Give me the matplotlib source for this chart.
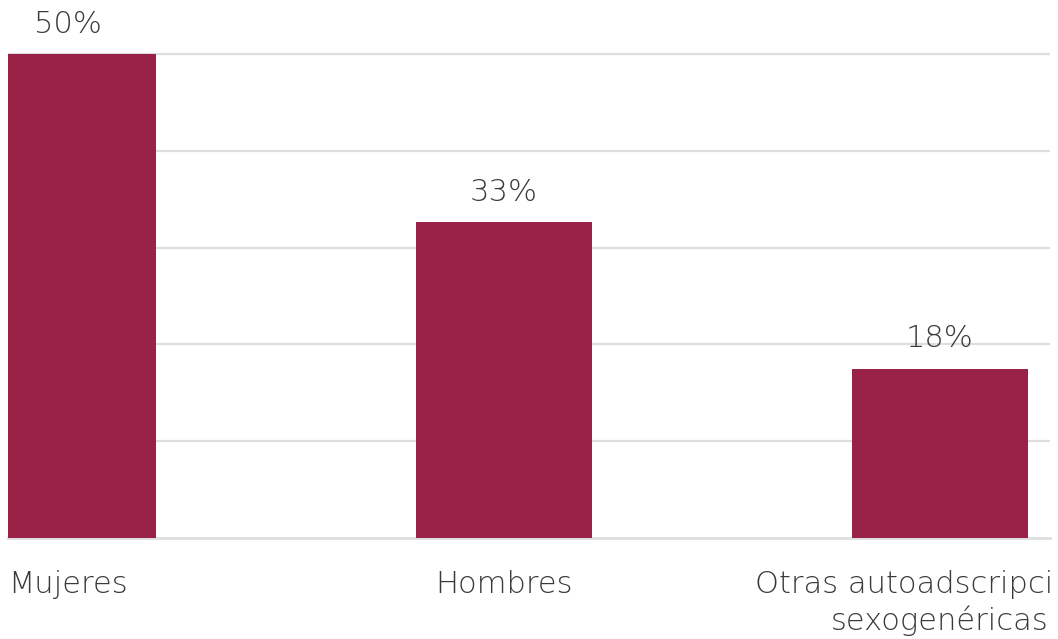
import matplotlib.pyplot as plt
from matplotlib.patches import Rectangle

categorias = ['Mujeres', 'Hombres', 'Otras autoadscripciones\nsexogenéricas']
valores = [50.0, 32.6, 17.5]
etiquetas = ['50%', '33%', '18%']

guinda = '#9B2247'
gris_texto = '#3A3A3A'
gris_linea = '#DEDEDE'

plt.rcParams['font.family'] = ['DejaVu Sans']

fig = plt.figure(figsize=(10.58, 6.39), dpi=100)
W, H = 1058, 639
ax = fig.add_axes([8 / W, (H - 538) / H, (1050 - 8) / W, 538 / H])

x = list(range(len(categorias)))
ax.bar(x, valores, width=0.404, color=guinda, zorder=3)

ax.set_xlim(-60 / 436, (1050 - 68) / 436)
ax.set_ylim(0, 538 / 9.68)

ax.set_yticks([10, 20, 30, 40, 50])
ax.yaxis.grid(True, color=gris_linea, linewidth=1.6, zorder=0)
ax.tick_params(axis='y', left=False, labelleft=False)
ax.tick_params(axis='x', length=0, pad=23)

for s in ['top', 'right', 'left']:
    ax.spines[s].set_visible(False)
ax.spines['bottom'].set_color(gris_linea)
ax.spines['bottom'].set_linewidth(2)

ax.set_xticks(x)
ax.set_xticklabels(categorias, fontsize=22, color=gris_texto,
                   fontweight='light', linespacing=1.25)
# el grafico original recorta el texto en el borde derecho
clip = Rectangle((0, 0), 1050 / W, 1, transform=fig.transFigure)
for t in ax.get_xticklabels():
    t.set_clip_on(True)
    t.set_clip_path(clip)

for xi, v, lab in zip(x, valores, etiquetas):
    ax.annotate(lab, (xi, v), xytext=(0, 11), textcoords='offset points',
                ha='center', va='bottom', fontsize=22, color=gris_texto,
                fontweight='light', annotation_clip=False)

fig.savefig('out.png', dpi=100)
